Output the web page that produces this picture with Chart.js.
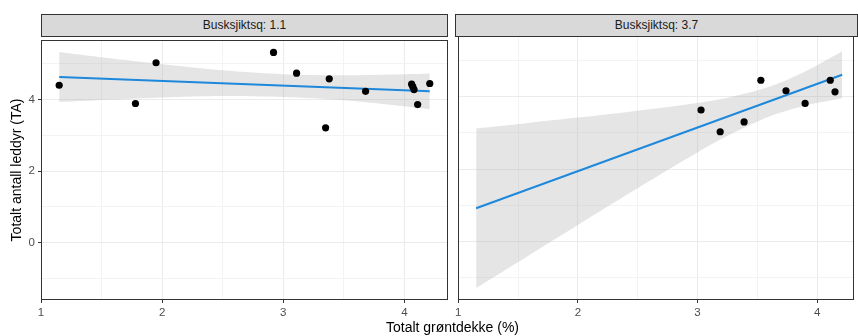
<!DOCTYPE html>
<html>
<head>
<meta charset="utf-8">
<script src="https://cdn.jsdelivr.net/npm/chart.js@4.4.1/dist/chart.umd.min.js"></script>
<style>
html,body{margin:0;padding:0;background:#fff;}
#wrap{position:relative;width:858px;height:336px;overflow:hidden;font-family:"Liberation Sans",Arial,sans-serif;}
canvas{position:absolute;}
.strip{position:absolute;box-sizing:border-box;top:14px;height:23px;background:#d9d9d9;border:1px solid #333;color:#1a1a1a;font-size:12px;line-height:21px;text-align:center;white-space:nowrap;}
#xtitle{position:absolute;left:302px;width:301px;top:319px;height:16px;line-height:16px;font-size:14px;color:#000;text-align:center;white-space:nowrap;}
</style>
</head>
<body>
<div id="wrap">
  <canvas id="cLeft" width="452" height="300" style="left:0;top:30px;"></canvas>
  <canvas id="cRight" width="406" height="300" style="left:452px;top:30px;"></canvas>
  <div class="strip" id="s1" style="left:41px;width:407px;"></div>
  <div class="strip" id="s2" style="left:455px;width:403px;"></div>
  <div id="xtitle"></div>
</div>
<script>
// ---- labels ----
const panelLabels = ['Busksjiktsq: 1.1', 'Busksjiktsq: 3.7'];
const xAxisTitle = 'Totalt grøntdekke (%)';
const yAxisTitle = 'Totalt antall leddyr (TA)';
const xTickValues = [1, 1.5, 2, 2.5, 3, 3.5, 4];
const yTickValues = [-1, 0, 1, 2, 3, 4, 5];

// ---- panel 1 (Busksjiktsq: 1.1) ----
const leftX = [1.15, 1.78, 1.95, 2.92, 3.11, 3.38, 3.35, 3.68, 4.06, 4.07, 4.08, 4.11, 4.21];
const leftY = [4.40, 3.89, 5.03, 5.32, 4.74, 4.58, 3.21, 4.23, 4.43, 4.36, 4.28, 3.86, 4.45];
const leftFitX = [1.15, 4.21];
const leftFitY = [4.63, 4.23];
const leftBandX = [1.15, 1.6, 2.0, 2.5, 3.0, 3.5, 4.0, 4.21];
const leftUpper = [5.33, 5.14, 4.99, 4.82, 4.71, 4.68, 4.71, 4.73];
const leftLower = [3.93, 4.00, 4.06, 4.10, 4.07, 3.98, 3.81, 3.73];

// ---- panel 2 (Busksjiktsq: 3.7) ----
const rightX = [3.03, 3.19, 3.39, 3.53, 3.74, 3.90, 4.11, 4.15];
const rightY = [3.63, 3.03, 3.30, 4.45, 4.16, 3.81, 4.45, 4.13];
const rightFitX = [1.15, 4.21];
const rightFitY = [0.92, 4.60];
const rightBandX = [1.15, 1.6, 2.0, 2.4, 2.8, 3.2, 3.6, 3.9, 4.21];
const rightUpper = [3.12, 3.28, 3.42, 3.57, 3.73, 3.93, 4.27, 4.69, 5.25];
const rightLower = [-1.28, -0.36, 0.46, 1.27, 2.07, 2.83, 3.45, 3.75, 3.95];

document.getElementById('s1').textContent = panelLabels[0];
document.getElementById('s2').textContent = panelLabels[1];
document.getElementById('xtitle').textContent = xAxisTitle;

const zip = (xs, ys) => xs.map((x, i) => ({x: x, y: ys[i]}));

const panelBorder = {
  id: 'panelBorder',
  afterDatasetsDraw(chart) {
    const a = chart.chartArea, ctx = chart.ctx;
    ctx.save();
    ctx.strokeStyle = '#333333';
    ctx.lineWidth = 1;
    const l = Math.round(a.left) + 0.5, t = Math.round(a.top) + 0.5;
    const r = Math.round(a.right) - 0.5, b = Math.round(a.bottom) - 0.5;
    ctx.strokeRect(l, t, r - l, b - t);
    ctx.restore();
  }
};

const isMajorX = v => Number.isInteger(v);
const isMajorY = v => Number.isInteger(v) && v % 2 === 0;

function makePanel(id, pts, fitX, fitY, bandX, up, lo, cfg) {
  new Chart(document.getElementById(id), {
    type: 'scatter',
    data: {
      datasets: [
        {data: zip(pts[0], pts[1]), backgroundColor: '#000', borderColor: '#000', borderWidth: 0, pointRadius: 3.6, pointHoverRadius: 3.6},
        {type: 'line', data: zip(fitX, fitY), borderColor: '#1e88db', borderWidth: 2, pointRadius: 0, fill: false, tension: 0},
        {type: 'line', data: zip(bandX, up), borderColor: 'rgba(0,0,0,0)', borderWidth: 0, pointRadius: 0, fill: false, tension: 0.3},
        {type: 'line', data: zip(bandX, lo), borderColor: 'rgba(0,0,0,0)', borderWidth: 0, pointRadius: 0, fill: '-1', backgroundColor: 'rgba(175,175,175,0.32)', tension: 0.3}
      ]
    },
    options: {
      responsive: false,
      animation: false,
      devicePixelRatio: 1,
      events: [],
      layout: {padding: {top: 6, right: cfg.padRight, bottom: 0, left: 0}},
      plugins: {legend: {display: false}, tooltip: {enabled: false}},
      scales: {
        x: {
          type: 'linear', min: 1, max: cfg.xmax,
          afterBuildTicks: s => { s.ticks = xTickValues.map(v => ({value: v})); },
          afterFit: s => { s.height = 30; },
          ticks: {callback: v => isMajorX(v) ? String(v) : '', color: '#4d4d4d', font: {family: '"Liberation Sans", Arial, sans-serif', size: 11.5}, padding: 3, maxRotation: 0, autoSkip: false},
          grid: {color: c => isMajorX(c.tick.value) ? '#ebebeb' : '#f3f3f3', lineWidth: 1, tickLength: 3, tickColor: c => isMajorX(c.tick.value) ? '#333' : 'rgba(0,0,0,0)'},
          border: {display: false}
        },
        y: {
          type: 'linear', min: -1.61, max: 5.67,
          afterBuildTicks: s => { s.ticks = yTickValues.map(v => ({value: v})); },
          afterFit: s => { s.width = cfg.yWidth; },
          ticks: {display: cfg.showY, callback: v => isMajorY(v) ? String(v) : '', color: '#4d4d4d', font: {family: '"Liberation Sans", Arial, sans-serif', size: 11.5}, padding: 3, autoSkip: false},
          grid: {color: c => isMajorY(c.tick.value) ? '#ebebeb' : '#f3f3f3', lineWidth: 1, drawTicks: cfg.showY, tickLength: 3, tickColor: c => isMajorY(c.tick.value) ? '#333' : 'rgba(0,0,0,0)'},
          border: {display: false},
          title: {display: cfg.showY, text: yAxisTitle, color: '#000', font: {family: '"Liberation Sans", Arial, sans-serif', size: 14}, padding: {top: 9, bottom: 0}}
        }
      }
    },
    plugins: [panelBorder]
  });
}

makePanel('cLeft', [leftX, leftY], leftFitX, leftFitY, leftBandX, leftUpper, leftLower,
  {xmax: 4.358, padRight: 4.3, yWidth: 41, showY: true});
makePanel('cRight', [rightX, rightY], rightFitX, rightFitY, rightBandX, rightUpper, rightLower,
  {xmax: 4.312, padRight: 1, yWidth: 3.3, showY: false});
</script>
</body>
</html>
